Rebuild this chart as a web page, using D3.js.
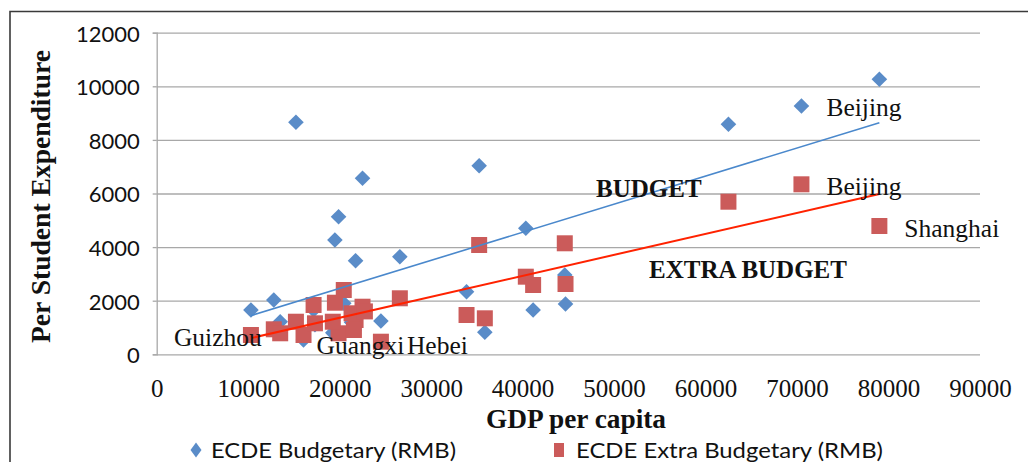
<!DOCTYPE html>
<html>
<head>
<meta charset="utf-8">
<script src="https://cdn.jsdelivr.net/npm/d3@7"></script>
<style>
  html, body { margin: 0; padding: 0; background: #ffffff; }
  svg { display: block; }
</style>
</head>
<body>
<svg id="chart" width="1028" height="462"></svg>
<script>
// Per-province GDP per capita (RMB) and early childhood per-student spending (RMB)
const gdpPerCapita = [10300, 12800, 13500, 15220, 16050, 17150, 17300, 19480, 19880, 19250,
                      20450, 21740, 21560, 21300, 22500, 22760, 24510, 26580, 33870, 35250,
                      35870, 40350, 41150, 44610, 44690, 62500, 70480, 79000];
const budgetary = [1653, 2026, 1216, 8657, 534, 1653, 1100, 4265, 5134, 800,
                   1903, 3493, 900, 1200, 6567, 1653, 1243, 3642, 2336, 7037,
                   821, 4701, 1653, 2959, 1877, 8582, 9265, 10261];
const extraBudgetary = [720, 933, 784, 1216, 720, 1840, 1157, 1925, 784, 1216,
                        2399, 1280, 907, 1530, 1776, 1600, 470, 2090, 1466, 4078,
                        1343, 2896, 2586, 4142, 2623, 5694, 6343, 4787];

const xTicks = [0, 10000, 20000, 30000, 40000, 50000, 60000, 70000, 80000, 90000];
const yTicks = [0, 2000, 4000, 6000, 8000, 10000, 12000];
const seriesNames = ["ECDE Budgetary (RMB)", "ECDE Extra Budgetary (RMB)"];
const xTitle = "GDP per capita";
const yTitle = "Per Student Expenditure";
const trendNames = ["BUDGET", "EXTRA BUDGET"];

// Named provinces: which series and which point (index into the arrays)
const labelNames = ["Guizhou", "Guangxi", "Hebei", "Beijing", "Beijing", "Shanghai"];
const labelSeries = [1, 1, 1, 0, 1, 1];
const labelIndex = [0, 4, 16, 26, 26, 27];

// ---- drawing ----
const svg = d3.select("#chart");
const serif = "'Liberation Serif', 'Times New Roman', serif";
const sans = "Lato, 'Open Sans', sans-serif";
const blue = "#5a8cc8";
const red = "#cb5b5a";

// outer chart frame
svg.append("path")
  .attr("d", "M10,1030 L10,11.5 L1030,11.5")
  .attr("fill", "none").attr("stroke", "#3a3a3a").attr("stroke-width", 1.6);

const plot = { left: 156.7, right: 980, top: 32.7, bottom: 354.3 };
const x = d3.scaleLinear().domain([0, 90000]).range([plot.left, plot.right]);
const y = d3.scaleLinear().domain([0, 12000]).range([plot.bottom, plot.top]);

// horizontal gridlines
svg.append("g")
  .attr("transform", `translate(${plot.left},0)`)
  .call(d3.axisLeft(y).tickValues(yTicks).tickSize(-(plot.right - plot.left)).tickFormat(""))
  .call(g => g.select(".domain").remove())
  .call(g => g.selectAll("line").attr("stroke", "#a8a8a8").attr("stroke-width", 1.3));

// y axis with outward ticks and labels
svg.append("g")
  .attr("transform", `translate(${plot.left},0)`)
  .call(d3.axisLeft(y).tickValues(yTicks).tickSize(4).tickPadding(13).tickFormat(d3.format("d")))
  .call(g => g.select(".domain").attr("stroke", "#a8a8a8").attr("stroke-width", 1.3))
  .call(g => g.selectAll("line").attr("stroke", "#a8a8a8").attr("stroke-width", 1.3))
  .call(g => g.selectAll("text")
    .attr("font-family", sans).attr("font-size", 22).attr("fill", "#111").attr("dy", "0.38em"));

// x axis labels
svg.append("g")
  .attr("transform", `translate(0,${plot.bottom})`)
  .call(d3.axisBottom(x).tickValues(xTicks).tickSize(0).tickPadding(25).tickFormat(d3.format("d")))
  .call(g => g.select(".domain").remove())
  .call(g => g.selectAll("text")
    .attr("font-family", serif).attr("font-size", 25).attr("fill", "#111").attr("dy", "0.7em"));

// axis titles
svg.append("text")
  .attr("x", (486 + 666) / 2).attr("y", 428)
  .attr("text-anchor", "middle")
  .attr("font-family", serif).attr("font-weight", "bold").attr("font-size", 27)
  .attr("textLength", 180).attr("lengthAdjust", "spacingAndGlyphs")
  .attr("fill", "#111").text(xTitle);

svg.append("text")
  .attr("transform", `translate(50,${(50 + 343) / 2}) rotate(-90)`)
  .attr("text-anchor", "middle")
  .attr("font-family", serif).attr("font-weight", "bold").attr("font-size", 27.5)
  .attr("textLength", 293).attr("lengthAdjust", "spacingAndGlyphs")
  .attr("fill", "#111").text(yTitle);

// markers
const diamond = r => `M0,${-r}L${r},0L0,${r}L${-r},0Z`;
const pts = d3.range(gdpPerCapita.length);

svg.append("g").selectAll("path")
  .data(pts).join("path")
  .attr("d", diamond(7.8))
  .attr("transform", i => `translate(${x(gdpPerCapita[i])},${y(budgetary[i])})`)
  .attr("fill", blue);

svg.append("g").selectAll("path")
  .data(pts).join("path")
  .attr("d", d3.symbol(d3.symbolSquare, 16 * 16)())
  .attr("transform", i => `translate(${x(gdpPerCapita[i])},${y(extraBudgetary[i])})`)
  .attr("fill", red);

// least-squares trend lines across the GDP range
function linearFit(xs, ys) {
  const mx = d3.mean(xs), my = d3.mean(ys);
  let sxy = 0, sxx = 0;
  xs.forEach((v, i) => { sxy += (v - mx) * (ys[i] - my); sxx += (v - mx) * (v - mx); });
  const slope = sxy / sxx;
  return v => my + slope * (v - mx);
}
const [gMin, gMax] = d3.extent(gdpPerCapita);
const trend = [
  { fit: linearFit(gdpPerCapita, budgetary), color: "#4a88cc", width: 1.6 },
  { fit: linearFit(gdpPerCapita, extraBudgetary), color: "#ff2200", width: 2 }
];
trend.forEach(t => {
  svg.append("line")
    .attr("x1", x(gMin)).attr("y1", y(t.fit(gMin)))
    .attr("x2", x(gMax)).attr("y2", y(t.fit(gMax)))
    .attr("stroke", t.color).attr("stroke-width", t.width);
});

// trend annotations
svg.append("text").attr("x", 596).attr("y", 196.5)
  .attr("font-family", serif).attr("font-weight", "bold").attr("font-size", 25)
  .attr("fill", "#111").text(trendNames[0]);
svg.append("text").attr("x", 649).attr("y", 278.3)
  .attr("font-family", serif).attr("font-weight", "bold").attr("font-size", 25)
  .attr("fill", "#111").text(trendNames[1]);

// province labels
const labelOffset = [[-77, 11], [13, 19], [26, 12.5], [25, 10.5], [25, 10.5], [25, 10.5]];
labelNames.forEach((name, k) => {
  const i = labelIndex[k];
  const v = labelSeries[k] === 0 ? budgetary[i] : extraBudgetary[i];
  svg.append("text")
    .attr("x", x(gdpPerCapita[i]) + labelOffset[k][0])
    .attr("y", y(v) + labelOffset[k][1])
    .attr("font-family", serif).attr("font-size", 25.5)
    .attr("fill", "#111").text(name);
});

// legend
const legend = svg.append("g");
legend.append("path").attr("d", "M196,442.5 L201.5,450 L196,457.5 L190.5,450 Z").attr("fill", blue);
legend.append("text").attr("x", 211).attr("y", 457.5)
  .attr("font-family", sans).attr("font-size", 22)
  .attr("textLength", 245).attr("lengthAdjust", "spacingAndGlyphs")
  .attr("fill", "#111").text(seriesNames[0]);
legend.append("rect").attr("x", 554).attr("y", 443).attr("width", 10).attr("height", 14).attr("fill", red);
legend.append("text").attr("x", 576).attr("y", 457.5)
  .attr("font-family", sans).attr("font-size", 22)
  .attr("textLength", 307).attr("lengthAdjust", "spacingAndGlyphs")
  .attr("fill", "#111").text(seriesNames[1]);
</script>
</body>
</html>
